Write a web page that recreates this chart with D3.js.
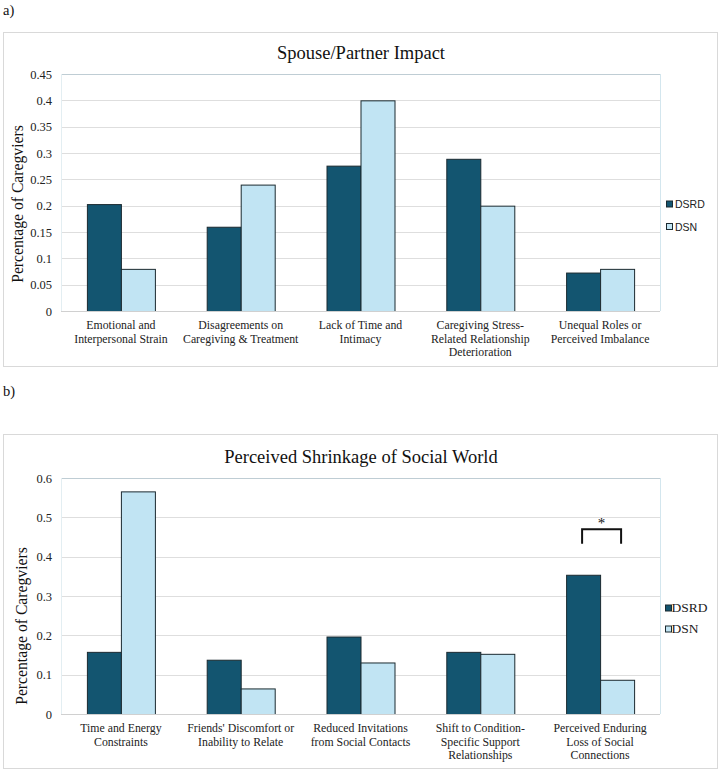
<!DOCTYPE html>
<html><head><meta charset="utf-8">
<script src="https://cdn.jsdelivr.net/npm/d3@7"></script>
<style>
body{margin:0;background:#fff}svg{display:block}
.serif{font-family:"Liberation Serif","Times New Roman",Times,"DejaVu Serif",serif}
.sans{font-family:"Liberation Sans",Arial,Helvetica,"DejaVu Sans",sans-serif}
</style>
</head><body>
<svg id="c" width="722" height="772"></svg>
<script>
const seriesNames = ["DSRD", "DSN"];
const colors = ["#135570", "#c1e4f3"];

const catsA = [["Emotional and","Interpersonal Strain"],["Disagreements on","Caregiving & Treatment"],["Lack of Time and","Intimacy"],["Caregiving Stress-","Related Relationship","Deterioration"],["Unequal Roles or","Perceived Imbalance"]];
const dsrdA = [0.203, 0.16, 0.276, 0.289, 0.073];
const dsnA  = [0.08, 0.24, 0.40, 0.20, 0.08];
const ticksA = [0,0.05,0.1,0.15,0.2,0.25,0.3,0.35,0.4,0.45];

const catsB = [["Time and Energy","Constraints"],["Friends' Discomfort or","Inability to Relate"],["Reduced Invitations","from Social Contacts"],["Shift to Condition-","Specific Support","Relationships"],["Perceived Enduring","Loss of Social","Connections"]];
const dsrdB = [0.158, 0.138, 0.197, 0.158, 0.354];
const dsnB  = [0.566, 0.065, 0.131, 0.153, 0.087];
const ticksB = [0,0.1,0.2,0.3,0.4,0.5,0.6];
const sigB = [{cat:4, value:0.47, label:"*"}];

const svg = d3.select("#c");

function drawChart(o){
  const g = svg.append("g");
  g.append("text").attr("class","serif").attr("x",3).attr("y",o.tagY).attr("font-size",14.5).attr("fill","#111").text(o.tag);
  g.append("rect").attr("x",3.5).attr("y",o.boxTop+0.5).attr("width",714).attr("height",o.boxBottom-o.boxTop)
    .attr("fill","#fff").attr("stroke","#d9d9d9");
  const L=61, R=660, T=o.top, B=o.bottom;
  const x = d3.scaleBand().domain(d3.range(o.cats.length)).range([L,R]);
  const y = d3.scaleLinear().domain([0,o.max]).range([B,T]);
  const bw = 34;
  g.selectAll(".grid").data(o.ticks.filter(t=>t>0 && t<o.max)).join("line")
    .attr("x1",L).attr("x2",R).attr("y1",d=>Math.round(y(d))+0.5).attr("y2",d=>Math.round(y(d))+0.5)
    .attr("stroke","#dedede").attr("stroke-width",1);
  g.append("line").attr("x1",L).attr("x2",R).attr("y1",T+0.5).attr("y2",T+0.5).attr("stroke","#bfcdd4");
  g.append("line").attr("x1",R+0.5).attr("x2",R+0.5).attr("y1",T).attr("y2",B).attr("stroke","#d3e6ee");
  g.append("line").attr("x1",L+0.5).attr("x2",L+0.5).attr("y1",T).attr("y2",B).attr("stroke","#e3eef2");
  const ax = d3.axisLeft(y).tickValues(o.ticks).tickSize(0).tickPadding(9).tickFormat(d=>String(d));
  const axg = g.append("g").attr("transform",`translate(${L},0)`).call(ax);
  axg.select(".domain").remove();
  axg.attr("font-family",null).attr("font-size",null);
  axg.selectAll("text").attr("class","serif").attr("font-size",12.5).attr("fill","#222");
  const vals = [o.dsrd, o.dsn];
  vals.forEach((arr,si)=>{
    g.selectAll(".b"+si).data(arr).join("rect")
      .attr("x",(d,i)=>x(i)+x.bandwidth()/2-bw+si*bw+0.5)
      .attr("y",d=>y(d)+0.5)
      .attr("width",bw)
      .attr("height",d=>B-y(d))
      .attr("fill",colors[si]).attr("stroke","#1b2a30").attr("stroke-width",1);
  });
  g.append("line").attr("x1",L).attr("x2",R).attr("y1",B+0.5).attr("y2",B+0.5).attr("stroke","#d0d0d0");
  o.cats.forEach((lines,i)=>{
    const t = g.append("text").attr("class","serif").attr("x",x(i)+x.bandwidth()/2).attr("y",B+18).attr("text-anchor","middle")
      .attr("font-size",11.8).attr("fill","#222");
    lines.forEach((l,j)=>t.append("tspan").attr("x",x(i)+x.bandwidth()/2).attr("dy",j?13.5:0).text(l));
  });
  g.append("text").attr("class","serif").attr("x",361).attr("y",o.titleY).attr("text-anchor","middle")
    .attr("font-size",18.5).attr("fill","#111").text(o.title);
  g.append("text").attr("class","serif").attr("transform",`translate(${o.ylabX},${o.ylabY}) rotate(-90)`).attr("text-anchor","middle")
    .attr("font-size",15.7).attr("fill","#111").text("Percentage of Caregviers");
  seriesNames.forEach((n,i)=>{
    const ly = o.legY + i*o.legGap;
    g.append("rect").attr("x",o.legX+0.5).attr("y",ly-3).attr("width",6).attr("height",6)
      .attr("fill",colors[i]).attr("stroke","#1b2a30").attr("stroke-width",1);
    g.append("text").attr("class",o.legFont).attr("x",o.legTX).attr("y",ly+4).attr("font-size",o.legSize)
      .attr("fill","#222").text(n);
  });
  (o.sig||[]).forEach(s=>{
    const x1 = x(s.cat)+x.bandwidth()/2-bw/2-1, x2 = x(s.cat)+x.bandwidth()/2+bw/2+4;
    const yt = y(s.value), yb = y(s.value-0.037);
    g.append("path").attr("d",`M${x1},${yb}V${yt}H${x2}V${yb}`).attr("fill","none").attr("stroke","#111").attr("stroke-width",2);
    g.append("text").attr("class","serif").attr("x",(x1+x2)/2).attr("y",yt-1).attr("text-anchor","middle")
      .attr("font-size",15).attr("fill","#111").text(s.label);
  });
}

drawChart({tag:"a)", tagY:15, boxTop:32, boxBottom:366, top:74, bottom:311, max:0.45, ticks:ticksA,
  cats:catsA, dsrd:dsrdA, dsn:dsnA, title:"Spouse/Partner Impact", titleY:59, ylabX:23, ylabY:204,
  legY:204, legGap:22.5, legX:666, legTX:675, legFont:"sans", legSize:10.5});
drawChart({tag:"b)", tagY:396, boxTop:434, boxBottom:768, top:478, bottom:714, max:0.6, ticks:ticksB,
  cats:catsB, dsrd:dsrdB, dsn:dsnB, title:"Perceived Shrinkage of Social World", titleY:463, ylabX:27, ylabY:626,
  legY:608, legGap:21, legX:665, legTX:671.5, legFont:"serif", legSize:13.5, sig:sigB});
</script>
</body></html>
